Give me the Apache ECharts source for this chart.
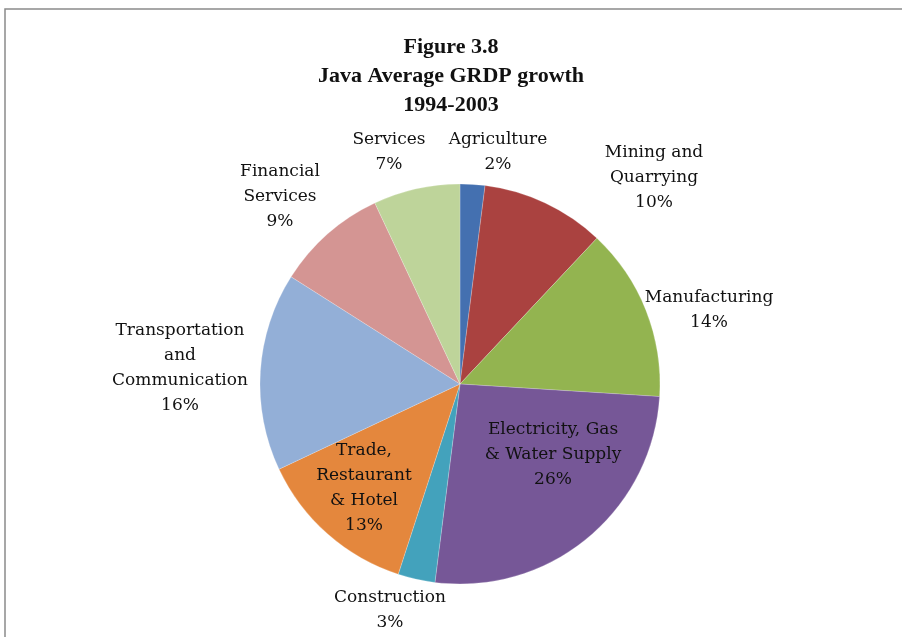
<!DOCTYPE html>
<html>
<head>
<meta charset="utf-8">
<script src="https://cdn.jsdelivr.net/npm/echarts@6/dist/echarts.min.js"></script>
<style>
  html, body { margin: 0; padding: 0; background: #fff; }
  #chart { width: 902px; height: 637px; }
</style>
</head>
<body>
<div id="chart"></div>
<script>
// Sector shares of Java's average GRDP growth, 1994-2003 (percent)
const sectors = [
  'Agriculture',
  'Mining and\nQuarrying',
  'Manufacturing',
  'Electricity, Gas\n& Water Supply',
  'Construction',
  'Trade,\nRestaurant\n& Hotel',
  'Transportation\nand\nCommunication',
  'Financial\nServices',
  'Services'
];
const shares = [2, 10, 14, 26, 3, 13, 16, 9, 7];
const sliceColors = ['#4470B0', '#AA4240', '#93B450', '#765797', '#43A2BC',
                     '#E4873D', '#93AFD7', '#D49593', '#BED49A'];
const titleLines = ['Figure 3.8', 'Java Average GRDP growth', '1994-2003'];

// label anchor points (centre of each text block)
const labelSpots = [
  [498, 152], [654, 178], [709, 310], [553, 455], [390, 610],
  [364, 488], [180, 368], [280, 197], [389, 152]
];

const chart = echarts.init(document.getElementById('chart'));
chart.setOption({
  backgroundColor: '#fff',
  animation: false,
  title: {
    text: titleLines.join('\n'),
    left: 'center',
    top: 28,
    textStyle: {
      fontFamily: 'Liberation Serif',
      fontWeight: 'bold',
      fontSize: 22,
      lineHeight: 29,
      color: '#111'
    }
  },
  graphic: [{
    type: 'rect',
    shape: { x: 5, y: 9, width: 920, height: 660 },
    style: { fill: 'none', stroke: '#8a8a8a', lineWidth: 1.5 },
    silent: true
  }],
  series: [{
    type: 'pie',
    center: [460, 384],
    radius: 200,
    startAngle: 90,
    clockwise: true,
    avoidLabelOverlap: false,
    itemStyle: { borderColor: 'rgba(255,255,255,0.35)', borderWidth: 0.6 },
    label: {
      show: true,
      position: 'outside',
      formatter: p => p.name + '\n' + p.value + '%',
      fontFamily: 'DejaVu Serif',
      fontSize: 17,
      lineHeight: 25,
      color: '#111',
      align: 'center'
    },
    labelLine: { show: false },
    labelLayout: params => ({
      x: labelSpots[params.dataIndex][0],
      y: labelSpots[params.dataIndex][1],
      align: 'center',
      verticalAlign: 'middle'
    }),
    data: sectors.map((name, i) => ({
      name: name,
      value: shares[i],
      itemStyle: { color: sliceColors[i] }
    }))
  }]
});
</script>
</body>
</html>
